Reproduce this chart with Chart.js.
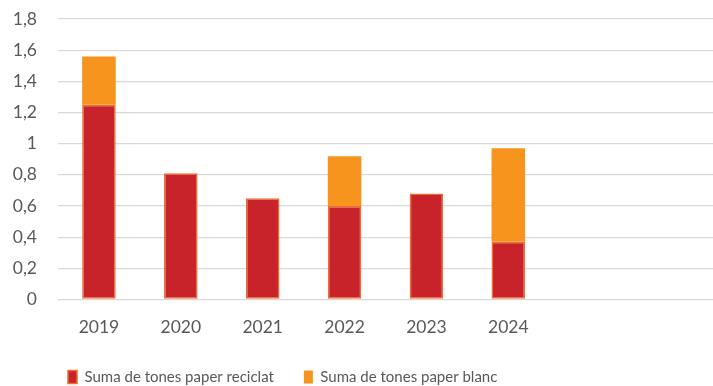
<!DOCTYPE html>
<html>
<head>
<meta charset="utf-8">
<script src="https://cdn.jsdelivr.net/npm/chart.js@4/dist/chart.umd.min.js"></script>
<style>
  body { margin: 0; background: #fff; }
  #wrap { width: 713px; height: 386px; }
</style>
</head>
<body>
<div id="wrap"><canvas id="g1"></canvas></div>
<script>
// anys (els dos darrers buits, com al full de càlcul)
var anys = ['2019', '2020', '2021', '2022', '2023', '2024', '', ''];
// tones de paper per any
var reciclat = [1.25, 0.81, 0.65, 0.60, 0.68, 0.37, null, null];
var blanc = [0.31, 0, 0, 0.32, 0, 0.60, null, null];

var textColor = '#595959';
var familia = 'Lato, sans-serif';
var lletra = { family: familia, size: 17.5 };

// desplaça la llegenda cap a la dreta
var llegendaDreta = {
    id: 'llegendaDreta',
    afterLayout: function(chart) {
        chart.legend.left += 38;
    }
};

var ctx = document.getElementById('g1');

var myChart = new Chart(ctx, {
    type: 'bar',
    data: {
        labels: anys,
        datasets: [{
            label: 'Suma de tones paper reciclat',
            data: reciclat,
            backgroundColor: '#C8222B',
            borderColor: '#F26B2A',
            borderWidth: 1.5,
            borderSkipped: false
        }, {
            label: 'Suma de tones paper blanc',
            data: blanc,
            backgroundColor: '#F7941D',
            borderColor: '#F7941D',
            borderWidth: 0
        }]
    },
    plugins: [llegendaDreta],
    options: {
        responsive: true,
        maintainAspectRatio: false,
        animation: false,
        layout: {
            padding: { top: 0, right: 0, left: 0, bottom: -8.5 }
        },
        datasets: {
            bar: { categoryPercentage: 1, barPercentage: 0.41 }
        },
        plugins: {
            legend: {
                position: 'bottom',
                align: 'start',
                labels: {
                    color: textColor,
                    font: { family: familia, size: 15 },
                    boxWidth: 9,
                    boxHeight: 13,
                    padding: 30
                }
            },
            tooltip: { enabled: false }
        },
        scales: {
            x: {
                stacked: true,
                grid: { display: false, drawTicks: false },
                border: { display: false },
                afterFit: function(scale) { scale.height = 40; },
                ticks: { color: textColor, font: lletra, padding: 17 }
            },
            y: {
                stacked: true,
                min: 0,
                max: 1.8,
                border: { display: false },
                grid: { color: '#D9D9D9', lineWidth: 1.3, drawTicks: false },
                afterFit: function(scale) {
                    scale.width = 58;
                    scale.paddingTop = 19;
                    scale.paddingBottom = 0;
                },
                ticks: {
                    stepSize: 0.2,
                    padding: 21,
                    color: textColor,
                    font: lletra,
                    callback: function(v) {
                        return (Math.round(v * 10) / 10).toString().replace('.', ',');
                    }
                }
            }
        }
    }
});
</script>
</body>
</html>
